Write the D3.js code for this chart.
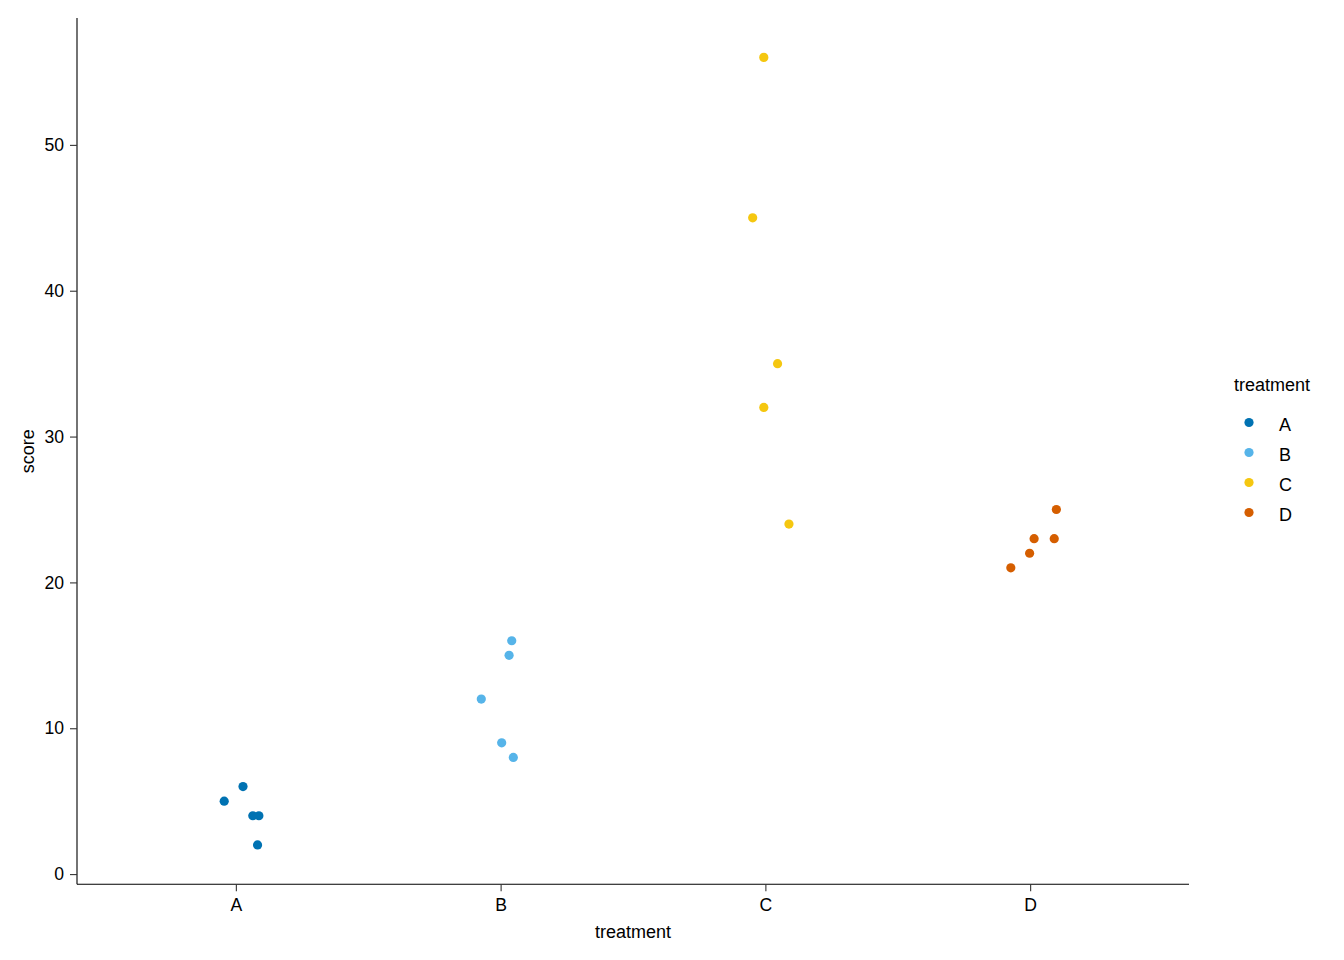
<!DOCTYPE html>
<html>
<head>
<meta charset="utf-8">
<script src="https://cdn.jsdelivr.net/npm/d3@7"></script>
<style>
  html, body { margin: 0; padding: 0; background: #fff; }
  text { font-family: "Liberation Sans", Arial, Helvetica, sans-serif; }
</style>
</head>
<body>
<svg id="chart" width="1344" height="960"></svg>
<script>
// ---- data ----
const categories = ["A", "B", "C", "D"];
const colors = ["#0072B2", "#56B4E9", "#F5C710", "#D55E00"];
const groupA = [6, 5, 4, 4, 2];
const groupB = [16, 15, 12, 9, 8];
const groupC = [56, 45, 35, 32, 24];
const groupD = [25, 23, 23, 22, 21];
// horizontal jitter (in category units)
const jitterA = [0.027, -0.044, 0.064, 0.087, 0.082];
const jitterB = [0.042, 0.032, -0.073, 0.004, 0.048];
const jitterC = [-0.006, -0.048, 0.046, -0.006, 0.089];
const jitterD = [0.099, 0.015, 0.091, -0.002, -0.073];
const yTicks = [0, 10, 20, 30, 40, 50];

const groups = [groupA, groupB, groupC, groupD];
const jitters = [jitterA, jitterB, jitterC, jitterD];
const points = [];
groups.forEach((g, i) => g.forEach((v, j) => points.push({cat: categories[i], idx: i, score: v, jit: jitters[i][j]})));

// ---- layout ----
const svg = d3.select("#chart");
const pLeft = 77, pRight = 1189, pTop = 18, pBottom = 884.3;
const FONT = '"Liberation Sans", Arial, Helvetica, sans-serif';

const x = d3.scaleLinear().domain([0.4, 4.6]).range([pLeft, pRight]);
const y = d3.scaleLinear().domain([-0.7, 58.7]).range([pBottom, pTop]);
const color = d3.scaleOrdinal().domain(categories).range(colors);

// points
svg.append("g").selectAll("circle").data(points).join("circle")
  .attr("cx", d => x(d.idx + 1 + d.jit))
  .attr("cy", d => y(d.score))
  .attr("r", 4.6)
  .attr("fill", d => color(d.cat));

// x axis
const xAxis = d3.axisBottom(x)
  .tickValues(categories.map((c, i) => i + 1))
  .tickFormat((d) => categories[d - 1])
  .tickSize(7).tickPadding(7)
  .tickSizeOuter(0);
const gx = svg.append("g").attr("transform", `translate(0,${pBottom})`).call(xAxis);
gx.select(".domain").attr("stroke", "#000").attr("stroke-width", 1.1)
  .attr("d", `M${pLeft},0H${pRight}`);
gx.selectAll(".tick line").attr("stroke", "#333").attr("stroke-width", 1.1);
gx.selectAll(".tick text").attr("font-size", 17.6).attr("fill", "#000").style("font-family", FONT);

// y axis
const yAxis = d3.axisLeft(y).tickValues(yTicks).tickSize(7).tickPadding(6).tickSizeOuter(0);
const gy = svg.append("g").attr("transform", `translate(${pLeft},0)`).call(yAxis);
gy.select(".domain").attr("stroke", "#000").attr("stroke-width", 1.1)
  .attr("d", `M0,${pTop}V${pBottom}`);
gy.selectAll(".tick line").attr("stroke", "#333").attr("stroke-width", 1.1);
gy.selectAll(".tick text").attr("font-size", 17.6).attr("fill", "#000").style("font-family", FONT);

// axis titles
svg.append("text").attr("x", (pLeft + pRight) / 2).attr("y", 938)
  .attr("text-anchor", "middle").attr("font-size", 18).text("treatment");
svg.append("text").attr("transform", `translate(34,${(pTop + pBottom) / 2}) rotate(-90)`)
  .attr("text-anchor", "middle").attr("font-size", 18).text("score");

// legend
const lg = svg.append("g");
lg.append("text").attr("x", 1234).attr("y", 391).attr("font-size", 18).text("treatment");
categories.forEach((c, i) => {
  const cy = 422.5 + i * 30;
  lg.append("circle").attr("cx", 1249).attr("cy", cy).attr("r", 4.6).attr("fill", color(c));
  lg.append("text").attr("x", 1279).attr("y", cy + 8).attr("font-size", 18).text(c);
});
</script>
</body>
</html>
